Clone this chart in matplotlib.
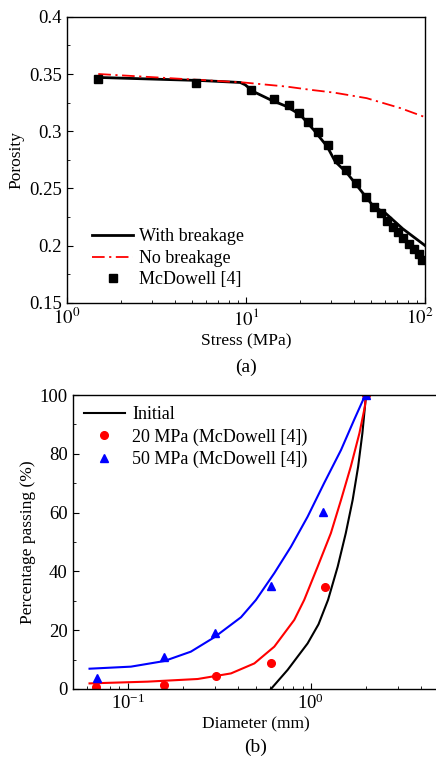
import matplotlib
matplotlib.use("Agg")
import matplotlib.pyplot as plt
import matplotlib.transforms as mtransforms
from matplotlib.ticker import LogLocator, MultipleLocator, NullFormatter

plt.rcParams['font.family'] = ['Liberation Serif', 'DejaVu Serif']
plt.rcParams['mathtext.fontset'] = 'stix'
plt.rcParams['font.size'] = 12.5

# (a) porosity vs stress
stress_exp = [1.5, 5.3, 10.7, 14.4, 17.3, 19.7, 22.3, 25.3, 28.7, 32.8, 36.3, 41.3,
              47.0, 52.1, 56.8, 61.3, 65.9, 70.3, 75.3, 81.7, 87.1, 92.5, 96.2]
poro_exp = [0.3455, 0.342, 0.3356, 0.3283, 0.3228, 0.3158, 0.3085, 0.2989, 0.2879,
            0.2759, 0.266, 0.2546, 0.2424, 0.2342, 0.2284, 0.2217, 0.2167, 0.2123,
            0.2066, 0.2016, 0.1972, 0.1929, 0.1876]
stress_brk = [1.5, 5.6, 9.3, 9.9, 11.0, 13.7, 16.9, 20.1, 23.9, 28.4, 31.5, 36.7,
              43.5, 51.6, 60.0, 75.0, 100]
poro_brk = [0.347, 0.3443, 0.3426, 0.3406, 0.3347, 0.3275, 0.3216, 0.3144, 0.3012,
            0.2867, 0.2735, 0.2634, 0.2488, 0.2342, 0.2285, 0.2148, 0.2001]
stress_nobrk = [1.5, 9.7, 16.9, 22.9, 30.9, 47.2, 72.8, 100]
poro_nobrk = [0.350, 0.3426, 0.339, 0.3362, 0.3338, 0.3289, 0.3202, 0.3123]

# (b) grading curves
d_init = [0.605, 0.746, 0.959, 1.10, 1.24, 1.40, 1.55, 1.69, 1.81, 1.91, 2.0]
p_init = [0, 6.5, 15.5, 22.0, 30.3, 41.6, 53.0, 64.3, 75.6, 87.0, 100]
d_20 = [0.0618, 0.1285, 0.241, 0.366, 0.491, 0.631, 0.811, 0.919, 1.088, 1.285,
        1.46, 1.65, 1.84, 1.97, 2.0]
p_20 = [1.9, 2.5, 3.4, 5.3, 8.7, 14.4, 23.5, 30.3, 41.6, 53.0, 64.3, 75.6, 87.0,
        96.0, 100]
d_50 = [0.0618, 0.104, 0.158, 0.221, 0.297, 0.415, 0.501, 0.631, 0.778, 0.959,
        1.18, 1.46, 1.72, 1.98]
p_50 = [6.9, 7.6, 9.5, 12.7, 17.6, 24.4, 30.3, 39.4, 48.4, 58.6, 70.0, 81.3, 91.5, 100]
d_exp = [0.067, 0.158, 0.305, 0.605, 1.20, 2.0]
p20_exp = [0.8, 1.4, 4.4, 8.9, 34.6, 100]
d50_exp = [0.068, 0.157, 0.30, 0.605, 1.17, 2.0]
p50_exp = [3.8, 10.8, 19.0, 35.0, 60.1, 100]
stress_ticks = [1, 10, 100]
stress_ticklabels = ['$10^0$', '$10^1$', '$10^2$']

fig = plt.figure(figsize=(4.36, 7.63), dpi=100)

ax1 = fig.add_axes([0.153, 0.603, 0.822, 0.375])
ax1.plot(stress_brk, poro_brk, color='black', lw=2, label='With breakage')
ax1.plot(stress_nobrk, poro_nobrk, color='red', lw=1.3, dashes=(7, 2.5, 1.2, 2.5),
         label='No breakage')
ax1.plot(stress_exp, poro_exp, 's', color='black', ms=6, label='McDowell [4]')
ax1.set_xscale('log')
ax1.set_xlim(1, 100)
ax1.set_ylim(0.15, 0.4)
ax1.set_xticks(stress_ticks)
ax1.set_xticklabels(stress_ticklabels)
ax1.set_yticks([0.15, 0.2, 0.25, 0.3, 0.35, 0.4])
ax1.set_yticklabels(['0.15', '0.2', '0.25', '0.3', '0.35', '0.4'])
ax1.yaxis.set_minor_locator(MultipleLocator(0.025))
ax1.set_xlabel('Stress (MPa)', labelpad=3)
ax1.set_ylabel('Porosity', labelpad=3)
ax1.legend(loc='lower left', frameon=False, handlelength=2.3, labelspacing=0.25,
           handletextpad=0.3, borderaxespad=0.4, bbox_to_anchor=(0.03, 0.0),
           fontsize=13)
ax1.text(0.5, -0.224, '(a)', transform=ax1.transAxes, ha='center', va='center', fontsize=14)

ax2 = fig.add_axes([0.1667, 0.097, 0.84, 0.3853])
ax2.plot(d_init, p_init, color='black', lw=1.5, label='Initial')
ax2.plot(d_20, p_20, color='red', lw=1.5)
ax2.plot(d_50, p_50, color='blue', lw=1.5)
ax2.plot(d_exp, p20_exp, 'o', color='red', ms=5.5, label='20 MPa (McDowell [4])')
ax2.plot(d50_exp, p50_exp, '^', color='blue', ms=6, label='50 MPa (McDowell [4])')
ax2.set_xscale('log')
ax2.set_xlim(0.05, 5)
ax2.set_ylim(0, 100)
ax2.set_yticks([0, 20, 40, 60, 80, 100])
ax2.yaxis.set_minor_locator(MultipleLocator(10))
ax2.xaxis.set_major_locator(LogLocator(base=10, numticks=10))
ax2.set_xlabel('Diameter (mm)', labelpad=2)
ax2.set_ylabel('Percentage passing (%)', labelpad=3)
ax2.legend(loc='upper left', frameon=False, handlelength=2.3, labelspacing=0.3,
           handletextpad=0.4, borderaxespad=0.2, fontsize=13)
ax2.text(0.5, -0.20, '(b)', transform=ax2.transAxes, ha='center', va='center', fontsize=14)

for ax in (ax1, ax2):
    ax.tick_params(which='both', direction='in', top=False, right=False, labelsize=13.5)
    ax.tick_params(which='major', length=4)
    ax.tick_params(which='minor', length=2.5)
    ax.xaxis.set_minor_formatter(NullFormatter())
    for sp in ax.spines.values():
        sp.set_linewidth(1.0)

# keep the 10^2 label inside the figure edge
last = ax1.get_xticklabels()[-1]
last.set_transform(last.get_transform() +
                   mtransforms.ScaledTranslation(-4 / 72, 0, fig.dpi_scale_trans))

fig.savefig('out.png', dpi=100)
